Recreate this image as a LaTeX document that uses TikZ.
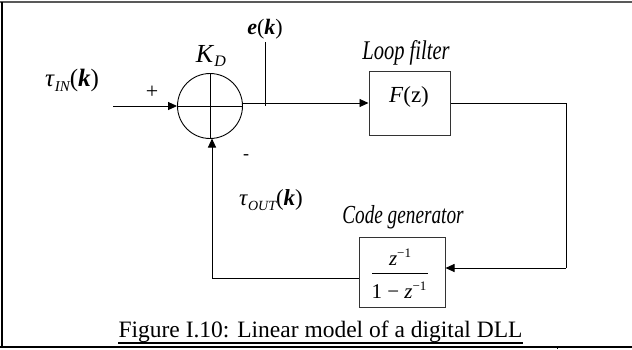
\documentclass[tikz,border=0pt]{standalone}
\usepackage{fontspec}
\setmainfont{Liberation Serif}
\usetikzlibrary{arrows.meta}
\newcommand\lowsub[3]{\raisebox{-#2}{\fontsize{#3}{#3}\selectfont\itshape #1}}
\tikzset{
  wire/.style={line width=0.9pt},
  arr/.style={line width=0.9pt, -{Triangle[length=9pt,width=8pt]}},
  blk/.style={draw=black!80, line width=1pt, inner sep=0pt},
  lbl/.style={inner sep=0pt},
  frame/.style={line width=1.5pt}
}
\begin{document}
\begin{tikzpicture}[x=1pt,y=-1pt]
\useasboundingbox (0,0) rectangle (632,349);
% outer frame (open on the right)
\draw[frame, black!65] (0,2) -- (632,2);
\draw[frame] (2,2) -- (2,347);
\draw[frame] (0,347) -- (632,347);
\draw[line width=1pt] (557,347) -- (557,349);

% summing junction
\node[circle, draw, line width=0.9pt, minimum size=65pt, inner sep=0pt] (sum) at (210,106) {};
\draw[wire] (sum.north) -- (sum.south);
\draw[wire] (sum.west) -- (sum.east);
\node[lbl] (kd) at (211,56) {\fontsize{26}{26}\selectfont\textit{K}\lowsub{D}{4pt}{16}};
\node[lbl] (plus) at (152,92) {\fontsize{22}{22}\selectfont +};
\node[lbl] (minus) at (246,157) {\fontsize{18}{18}\selectfont -};

% input
\coordinate (in) at (113,106);
\draw[arr] (in) -- (sum.west);
\node[lbl] (tin) at (72,80) {\fontsize{25}{25}\selectfont\textit{τ}\lowsub{IN}{5pt}{15}(\textbf{\textit{k}})};

% error tap
\coordinate (etop) at (265,42);
\coordinate (ebot) at (265,106);
\draw[wire] (etop) -- (ebot);
\node[lbl] (ek) at (265,29) {\fontsize{22}{22}\selectfont\textbf{\textit{e}}(\textbf{\textit{k}})};

% loop filter
\node[blk, minimum width=81pt, minimum height=64pt] (fil) at (409.5,103) {};
\node[lbl] (fz) at (409,97) {\fontsize{23}{23}\selectfont\textit{F}(z)};
\node[lbl] (fillbl) at (406,53) {\scalebox{0.76}[1]{\fontsize{27}{27}\selectfont\textit{Loop filter}}};
\draw[arr] (sum.east |- fil.west) -- (fil.west);

% right loop wire
\coordinate (c1) at (566,103);
\coordinate (c2) at (566,268);

% code generator
\node[blk, minimum width=86pt, minimum height=70pt] (gen) at (402,272) {};
\node[lbl] (genlbl) at (403,217) {\scalebox{0.74}[1]{\fontsize{26}{26}\selectfont\textit{Code generator}}};
\node[lbl] (num) at (400,257) {\fontsize{21}{21}\selectfont\textit{z}\raisebox{8pt}{\fontsize{13}{13}\selectfont −1}};
\node[lbl] (den) at (399,290) {\fontsize{21}{21}\selectfont 1 − \textit{z}\raisebox{8pt}{\fontsize{13}{13}\selectfont −1}};
\coordinate (barl) at (372,273);
\coordinate (barr) at (428,273);
\draw[line width=0.8pt] (barl) -- (barr);

\draw[wire] (fil.east) -- (c1) -- (c2);
\draw[arr] (c2) -- (c2 -| gen.east);

% feedback
\coordinate (fb) at (212,278);
\coordinate (fbtop) at (212,138.5);
\draw[arr] (gen.west |- fb) -- (fb) -- (fbtop);
\node[lbl] (tout) at (271,200) {\fontsize{23}{23}\selectfont\textit{τ}\lowsub{OUT}{5pt}{14}(\textbf{\textit{k}})};

% caption
\node[lbl, anchor=base] (cap) at (320.5,337) {\fontsize{23.5}{23.5}\selectfont Figure I.10: Linear model of a digital DLL};
\draw[line width=1.4pt] ([yshift=-6pt]cap.base west) -- ([yshift=-6pt]cap.base east);
\end{tikzpicture}
\end{document}
